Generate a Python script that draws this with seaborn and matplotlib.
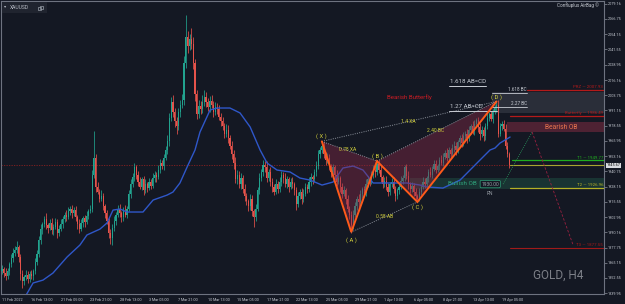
import numpy as np
import pandas as pd
import matplotlib
matplotlib.use("Agg")
import matplotlib.pyplot as plt
import seaborn as sns
from matplotlib.patches import Polygon, Rectangle
import matplotlib.transforms as mtransforms

# ---------------- data ----------------
first_open = 1858
close = [
    1860, 1857, 1854, 1858, 1864, 1869, 1873, 1876, 1878, 1870,
    1856, 1850, 1853, 1855, 1852, 1856, 1854, 1858, 1866, 1872,
    1884, 1893, 1897, 1901, 1896, 1894, 1898, 1892, 1895, 1899,
    1890, 1893, 1897, 1901, 1905, 1903, 1908, 1910, 1906, 1909,
    1903, 1897, 1893, 1898, 1902, 1899, 1904, 1908, 1910, 1938,
    1952, 1928, 1924, 1918, 1920, 1912, 1906, 1900, 1890, 1886,
    1894, 1900, 1905, 1910, 1906, 1903, 1908, 1905, 1910, 1922,
    1930, 1936, 1944, 1938, 1932, 1928, 1934, 1925, 1930, 1927,
    1932, 1929, 1935, 1938, 1936, 1942, 1948, 1945, 1952, 1958,
    1966, 1985, 1998, 1990, 1982, 1978, 1990, 1996, 2000, 2030,
    2052, 2044, 2050, 2046, 2030, 2005, 1988, 1995, 1992, 1998,
    2002, 1998, 1994, 1999, 1996, 1990, 1994, 1992, 1986, 1982,
    1978, 1972, 1975, 1968, 1962, 1955, 1948, 1934, 1938, 1930,
    1935, 1926, 1920, 1916, 1912, 1918, 1908, 1903, 1910, 1925,
    1935, 1940, 1946, 1944, 1935, 1940, 1932, 1928, 1924, 1930,
    1926, 1932, 1938, 1935, 1930, 1934, 1928, 1932, 1930, 1925,
    1914, 1920, 1924, 1918, 1922, 1928, 1926, 1932, 1936, 1934,
    1940, 1945, 1955, 1958, 1962, 1955, 1950, 1952, 1945, 1940,
    1944, 1938, 1932, 1935, 1928, 1922, 1925, 1918, 1910, 1905,
    1896, 1905, 1912, 1918, 1915, 1922, 1926, 1923, 1930, 1934,
    1932, 1938, 1942, 1940, 1947, 1942, 1936, 1930, 1933, 1928,
    1924, 1930, 1932, 1926, 1920, 1925, 1928, 1933, 1935, 1944,
    1937, 1930, 1926, 1929, 1924, 1920, 1918, 1924, 1928, 1932,
    1930, 1935, 1940, 1938, 1943, 1947, 1942, 1945, 1950, 1948,
    1953, 1956, 1952, 1958, 1955, 1960, 1962, 1958, 1965, 1968,
    1964, 1970, 1972, 1968, 1975, 1978, 1974, 1980, 1983, 1977,
    1972, 1975, 1970, 1978, 1985, 1988, 1984, 1990, 1993, 1996,
    1972, 1978, 1980, 1976, 1962, 1955, 1945.67,
]
wick_up = [
    3, 2, 4, 3, 2, 3, 4, 3, 5, 2,  2, 3, 2, 4, 3, 2, 3, 2, 3, 4,
    3, 4, 2, 3, 5, 2, 3, 4, 2, 3,  2, 3, 4, 3, 2, 4, 3, 2, 3, 2,
    3, 2, 4, 3, 2, 3, 4, 2, 3, 4,  22, 3, 4, 2, 5, 3, 2, 3, 2, 3,
    3, 4, 2, 3, 4, 2, 3, 5, 2, 3,  4, 3, 4, 2, 3, 4, 2, 3, 4, 2,
    3, 2, 4, 3, 2, 4, 3, 2, 3, 4,  5, 4, 4, 6, 3, 4, 3, 4, 5, 6,
    18, 5, 4, 9, 6, 4, 3, 5, 4, 6,  6, 4, 3, 4, 5, 3, 4, 3, 4, 3,
    4, 3, 5, 4, 3, 4, 3, 5, 4, 3,  4, 3, 4, 3, 2, 4, 3, 2, 4, 3,
    4, 3, 4, 3, 5, 3, 4, 3, 2, 4,  3, 4, 3, 2, 4, 3, 2, 3, 4, 2,
    3, 4, 2, 3, 4, 3, 2, 4, 3, 2,  3, 4, 3, 3, 4, 3, 2, 4, 3, 2,
    3, 2, 4, 3, 2, 3, 4, 2, 3, 2,  3, 4, 3, 2, 4, 3, 2, 3, 4, 3,
    2, 3, 4, 3, 2, 3, 4, 2, 3, 4,  3, 2, 3, 4, 3, 2, 3, 4, 3, 2,
    3, 4, 2, 3, 2, 3, 2, 3, 2, 4,  3, 2, 3, 4, 2, 3, 3, 2, 3, 4,
    3, 2, 4, 3, 2, 3, 4, 3, 2, 3,  4, 3, 2, 4, 3, 2, 4, 3, 2, 3,
    4, 3, 2, 3, 4, 2, 3, 2, 3, 3,  4, 3, 2, 3, 4, 3, 2,
]
wick_dn = [
    2, 4, 3, 2, 3, 2, 3, 2, 3, 4,  5, 6, 3, 2, 4, 3, 2, 3, 2, 3,
    2, 3, 4, 2, 3, 4, 2, 3, 4, 2,  4, 3, 2, 3, 2, 3, 2, 3, 4, 2,
    3, 4, 3, 2, 3, 4, 2, 3, 2, 3,  3, 4, 2, 3, 2, 3, 4, 3, 4, 5,
    6, 3, 4, 2, 3, 4, 3, 2, 3, 2,  3, 2, 3, 4, 3, 2, 3, 4, 2, 3,
    2, 3, 2, 3, 4, 2, 3, 2, 3, 2,  3, 4, 3, 4, 5, 6, 3, 4, 3, 4,
    4, 5, 3, 4, 5, 6, 4, 3, 4, 3,  3, 4, 3, 4, 3, 4, 3, 4, 3, 4,
    3, 4, 3, 4, 3, 4, 5, 3, 4, 3,  4, 3, 4, 3, 4, 3, 4, 8, 3, 2,
    3, 2, 3, 4, 3, 2, 3, 4, 3, 2,  3, 2, 3, 4, 2, 3, 4, 2, 3, 4,
    5, 3, 2, 4, 3, 2, 3, 2, 3, 4,  2, 3, 2, 3, 2, 3, 4, 2, 3, 4,
    3, 4, 3, 2, 4, 3, 2, 4, 3, 4,  6, 3, 2, 3, 4, 2, 3, 2, 3, 2,
    3, 2, 3, 4, 2, 3, 4, 3, 2, 3,  4, 3, 2, 3, 4, 2, 3, 2, 3, 2,
    3, 4, 3, 2, 4, 3, 3, 2, 3, 2,  3, 2, 3, 2, 3, 2, 3, 2, 3, 2,
    3, 2, 3, 2, 3, 2, 3, 4, 2, 3,  3, 2, 3, 4, 2, 3, 2, 3, 2, 4,
    5, 3, 4, 3, 2, 3, 2, 3, 2, 3,  3, 2, 3, 2, 3, 2, 2,
]

# moving average (blue line), read at bar positions
ma_idx = [12.5, 16.9, 22.3, 27.7, 35.4, 42.4, 46.2, 53.3, 57.1, 60.4, 64.2, 68.0,
          76.7, 82.2, 89.8, 93.0, 96.8, 100.7, 105.0, 107.7, 113.2, 117.0, 124.0,
          129.5, 135.0, 140.4, 144.2, 149.6, 156.7, 162.1, 167.6, 174.1, 180.1,
          185.5, 191.0, 196.4, 201.9, 209.5, 220.3, 227.4, 231.2, 239.9, 249.2,
          258.4, 265.5, 268.2, 270.9, 276.4]
ma_val = [1836.8, 1848.4, 1850.8, 1856.6, 1869.9, 1879.8, 1888.1, 1893.0, 1898.0,
          1908.7, 1909.6, 1907.1, 1907.1, 1917.0, 1921.1, 1923.6, 1931.1, 1944.3,
          1958.4, 1973.2, 1991.5, 1993.1, 1993.1, 1989.0, 1977.4, 1958.4, 1947.6,
          1941.8, 1940.2, 1935.2, 1933.5, 1929.4, 1931.9, 1943.5, 1945.1, 1941.8,
          1931.1, 1931.1, 1931.1, 1929.4, 1927.8, 1926.9, 1933.5, 1947.6, 1958.4,
          1960.0, 1964.1, 1969.1]

# harmonic pattern points
pt_names = ["X", "A", "B", "C", "D"]
pt_idx = [174, 190, 204, 226, 269]
pt_price = [1965.5, 1890.5, 1949.2, 1915.4, 1998.5]

# levels
lvl_prz, lvl_bfly, lvl_t1, lvl_t2, lvl_t3 = 2007.93, 1986.49, 1949.77, 1926.96, 1877.55
last_price = 1945.67

xtick_labels = ["11 Feb 2022", "16 Feb 13:00", "21 Feb 05:00", "23 Feb 21:00",
                "28 Feb 13:00", "3 Mar 05:00", "7 Mar 21:00", "10 Mar 13:00",
                "15 Mar 05:00", "17 Mar 21:00", "22 Mar 13:00", "25 Mar 05:00",
                "29 Mar 21:00", "1 Apr 13:00", "6 Apr 05:00", "8 Apr 21:00",
                "13 Apr 13:00", "19 Apr 05:00"]
ytick_labels = ["2079.16", "2066.75", "2054.15", "2041.55", "2028.95", "2016.16",
                "2003.75", "1991.15", "1978.55", "1965.95", "1953.16", "1940.75",
                "1928.15", "1915.55", "1902.95", "1890.16", "1877.75", "1865.15",
                "1852.55", "1839.95"]

# ---------------- build frame ----------------
n = len(close)
opens = [first_open] + close[:-1]
df = pd.DataFrame({"i": np.arange(n), "open": opens, "close": close})
df["high"] = df[["open", "close"]].max(axis=1) + np.array(wick_up)
df["low"] = df[["open", "close"]].min(axis=1) - np.array(wick_dn)
df["up"] = df["close"] >= df["open"]

BG = "#141823"
UP, DN = "#22a38f", "#e5534b"
sns.set_theme(style="dark", rc={"axes.facecolor": BG, "figure.facecolor": BG})
plt.rcParams["font.family"] = ["Roboto", "DejaVu Sans"]

fig = plt.figure(figsize=(6.25, 3.04), dpi=100)
ax = fig.add_axes([1/625, 10/304, 603/625, 293/304])
ax.set_facecolor(BG)

XMAX = 327.5
ax.set_xlim(-0.55, XMAX)
ax.set_ylim(1839.3, 2081.6)

# current price dotted line
ax.axhline(last_price, color="#8a2020", lw=0.6, ls=(0, (1.5, 1.5)), zorder=1)

# candles
cols = np.where(df["up"], UP, DN)
ax.vlines(df["i"], df["low"], df["high"], colors=cols, lw=0.55, zorder=2)
body = (df["close"] - df["open"]).abs().clip(lower=0.6)
ax.bar(df["i"], body, bottom=df[["open", "close"]].min(axis=1), width=0.62,
       color=cols, linewidth=0, zorder=3)

# moving average
sns.lineplot(x=ma_idx, y=ma_val, ax=ax, color="#2f57c9", lw=1.0, zorder=4,
             sort=False, estimator=None)

# pattern fills
P = dict(zip(pt_names, zip(pt_idx, pt_price)))
for tri in (("X", "A", "B"), ("B", "C", "D")):
    ax.add_patch(Polygon([P[k] for k in tri], closed=True, facecolor="#8a2a48",
                         alpha=0.42, edgecolor="none", zorder=5))
# dotted ratio lines
for a, b in (("X", "B"), ("A", "C"), ("X", "D"), ("B", "D")):
    ax.plot([P[a][0], P[b][0]], [P[a][1], P[b][1]], color="#9aa0aa", lw=0.6,
            ls=(0, (1.2, 1.5)), zorder=6)
ax.plot(pt_idx, pt_price, color="#ff5a1a", lw=1.4, zorder=7, solid_joinstyle="miter")

YEL = "#d2cf3c"
fs_s = 3.6
ax.text(188, 1958.4, "0.78 XA", color=YEL, fontsize=fs_s, ha="center", va="center", zorder=8)
ax.text(221, 1982.3, "1.4 XA", color=YEL, fontsize=fs_s, ha="center", va="center", zorder=8)
ax.text(236, 1974.1, "2.40 BC", color=YEL, fontsize=fs_s, ha="center", va="center", zorder=8)
ax.text(208, 1903.0, "0.58 AB", color=YEL, fontsize=fs_s, ha="center", va="center", zorder=8)
lab_off = {"X": 4.5, "A": -7, "B": 4.2, "C": -4.5, "D": 4.0}
for k in pt_names:
    ax.text(P[k][0], P[k][1] + lab_off[k], f"( {k} )", color=YEL, fontsize=4.2,
            ha="center", va="center", zorder=8)
ax.text(221.4, 2002.2, "Bearish Butterfly", color="#cc1c24", fontsize=4.4,
        ha="center", va="center", zorder=8)

# AB=CD / BC projections
WH = "#c8ccd4"
ax.plot([243.2, 263.3], [2011.3, 2011.3], color=WH, lw=0.7, zorder=6)
ax.text(243.7, 2012.6, "1.618 AB=CD", color=WH, fontsize=4.4, ha="left", va="bottom", zorder=8)
ax.plot([243.2, 269.3], [1990.6, 1990.6], color=WH, lw=0.7, zorder=6)
ax.text(243.7, 1991.9, "1.27 AB=CD", color=WH, fontsize=4.4, ha="left", va="bottom", zorder=8)
ax.plot([266.6, 285.6], [2005.5, 2005.5], color=WH, lw=0.6, zorder=6)
ax.text(285.6, 2006.2, "1.618 BC", color=WH, fontsize=3.3, ha="right", va="bottom", zorder=8)
ax.plot([266.6, 285.6], [1993.9, 1993.9], color=WH, lw=0.6, zorder=6)
ax.text(285.6, 1994.6, "2.27 BC", color=WH, fontsize=3.3, ha="right", va="bottom", zorder=8)

# PRZ zone
ax.add_patch(Rectangle((266.6, 1989.0), XMAX - 266.6, 17.3, facecolor="#2a2e39",
                       edgecolor="none", zorder=0.5))
# bearish / bullish OB
ax.add_patch(Rectangle((274.8, 1973.2), XMAX - 274.8, 8.3, facecolor="#4e2233",
                       edgecolor="none", zorder=0.6))
ax.text(304, 1977.3, "Bearish OB", color="#e8744e", fontsize=4.8, ha="center",
        va="center", zorder=8)
ax.add_patch(Rectangle((222, 1926.1), XMAX - 222, 9.1, facecolor="#193433",
                       edgecolor="none", zorder=0.6))
ax.text(242.7, 1930.8, "Bullish OB", color="#2fa57c", fontsize=4.6, ha="left",
        va="center", zorder=8)
ax.text(265.6, 1930.2, "1930.00", color="#9aa0a8", fontsize=3.5, ha="center", va="center",
        zorder=9, bbox=dict(boxstyle="round,pad=0.25", fc=BG, ec="#2fa57c", lw=0.5))
ax.text(265.5, 1922.3, "RN", color="#9aa0a8", fontsize=3.5, ha="center", va="center", zorder=8)

# level lines
RED = "#b41a1a"
levels = [(lvl_prz, 285.6, RED, "PRZ — 2007.93", 0.9),
          (lvl_bfly, 276.4, RED, "Butterfly — 1986.49", 0.9),
          (lvl_t1, 277.5, "#1fae1f", "T1 — 1949.77", 0.9),
          (lvl_t2, 276.4, "#b4b126", "T2 — 1926.96", 0.9),
          (lvl_t3, 276.4, "#a01a1a", "T3 — 1877.55", 0.8)]
for y, x0, c, lab, lw in levels:
    ax.plot([x0, XMAX], [y, y], color=c, lw=lw, zorder=6)
    ax.text(XMAX - 0.5, y + 0.6, lab, color=c, fontsize=3.2, ha="right", va="bottom", zorder=8)
ax.plot([276.4, XMAX], [last_price, last_price], color="#a8a530", lw=0.8, zorder=6)

# projection path
ax.plot([272.6, 288.4], [1930.2, 1973.2], color="#2aa060", lw=0.6, ls=(0, (1, 1.5)), zorder=6)
ax.plot([288.4, 310.7], [1973.2, 1879.8], color="#9a2040", lw=0.6, ls=(0, (3, 2)), zorder=6)

# watermark
ax.text(302.5, 1855, "GOLD, H4", color="#7d8088", fontsize=8.5,
        family=["Roboto", "DejaVu Sans"], ha="center", va="center", zorder=1)

# axes styling
ax.yaxis.tick_right()
ax.set_yticks([float(v) for v in ytick_labels])
ax.set_yticklabels(ytick_labels)
ax.set_xticks(np.arange(0, 16 * len(xtick_labels), 16))
ax.set_xticklabels(xtick_labels, ha="left")
ax.tick_params(axis="both", colors="#8a8f99", labelcolor="#c4c8d0", labelsize=2.7,
               length=2, width=0.5, direction="out", pad=1)
for s in ax.spines.values():
    s.set_color("#6e7380")
    s.set_linewidth(0.8)
    s.set_visible(True)
ax.set_xlabel("")
ax.set_ylabel("")
ax.grid(False)

# last price tag on the axis
trans = mtransforms.blended_transform_factory(ax.transAxes, ax.transData)
ax.text(1.004, last_price, f"{last_price:.2f}", transform=trans, fontsize=2.8,
        color="#111111", ha="left", va="center", zorder=10, clip_on=False,
        bbox=dict(boxstyle="square,pad=0.2", fc="#d8dadf", ec="none"))

# top-left symbol box and top-right label
fig.patches.append(Rectangle((2/625, 1 - 13/304), 45/625, 11/304, transform=fig.transFigure,
                             facecolor="#20242f", edgecolor="none", zorder=0))
fig.text(4/625, 1 - 6/304, "▾", color="#b8bcc6", fontsize=3.2, ha="left", va="center",
         family=["DejaVu Sans"])
fig.text(10/625, 1 - 7.5/304, "XAUUSD", color="#b8bcc6", fontsize=3.6, ha="left", va="center")
fig.patches.append(Rectangle((38/625, 1 - 10/304), 3/625, 3/304, transform=fig.transFigure,
                             facecolor="none", edgecolor="#9aa0aa", lw=0.5))
fig.patches.append(Rectangle((39.5/625, 1 - 8.5/304), 3/625, 3/304, transform=fig.transFigure,
                             facecolor="none", edgecolor="#9aa0aa", lw=0.5))
fig.text(599/625, 1 - 5.5/304, "Confluplus AirBag ©", color="#c4c8d0", fontsize=3.3,
         ha="right", va="center", family=["Roboto", "DejaVu Sans"])

fig.savefig("out.png", dpi=100, facecolor=BG)
